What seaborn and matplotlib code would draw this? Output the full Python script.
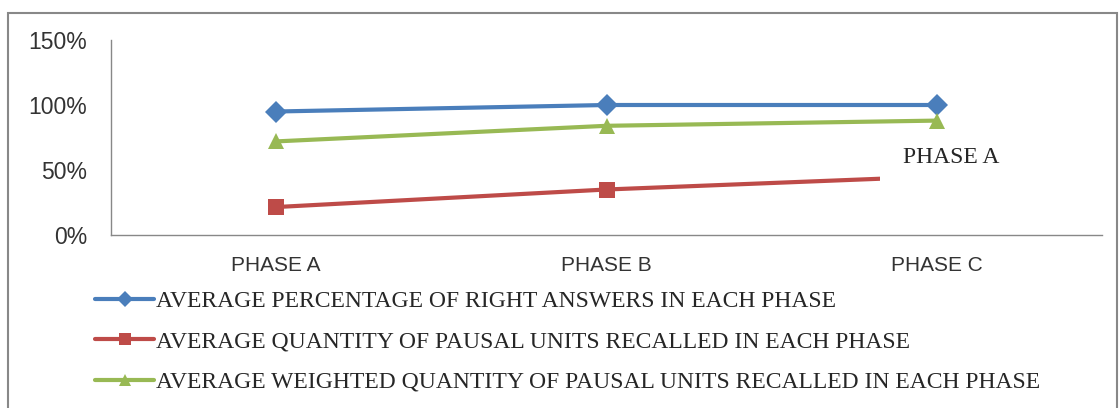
import pandas as pd
import matplotlib.pyplot as plt
import seaborn as sns
from matplotlib.patches import Rectangle

# --- data ---
phases = ["PHASE A", "PHASE B", "PHASE C"]
right_answers = [0.95, 1.00, 1.00]
pausal_units = [0.215, 0.35, 0.45]
weighted_units = [0.72, 0.84, 0.88]

series_names = [
    "AVERAGE PERCENTAGE OF RIGHT ANSWERS IN EACH PHASE",
    "AVERAGE QUANTITY OF PAUSAL UNITS RECALLED IN EACH PHASE",
    "AVERAGE WEIGHTED QUANTITY OF PAUSAL UNITS RECALLED IN EACH PHASE",
]
y_ticks = [0, 0.5, 1.0, 1.5]
y_labels = ["0%", "50%", "100%", "150%"]

colors = ["#4A7EBB", "#BE4B48", "#98B954"]
markers = ["D", "s", "^"]

rows = []
for name, vals in zip(series_names, [right_answers, pausal_units, weighted_units]):
    for ph, v in zip(phases, vals):
        rows.append({"phase": ph, "value": v, "series": name})
df = pd.DataFrame(rows)

sns.set_style("white")
fig = plt.figure(figsize=(11.19, 4.08), dpi=100)
ax = fig.add_axes([111 / 1119, 173 / 408, 991 / 1119, 195 / 408])

sns.lineplot(data=df, x="phase", y="value", hue="series", style="series",
             hue_order=series_names, style_order=series_names,
             palette=colors, markers=dict(zip(series_names, markers)),
             dashes=False, linewidth=3, markersize=11, markeredgewidth=0,
             ax=ax)

ax.set_xlim(-0.5, 2.5)
ax.set_ylim(0, 1.5)
ax.set_yticks(y_ticks)
ax.set_yticklabels(y_labels)
ax.set_xlabel("")
ax.set_ylabel("")
for s in ["top", "right"]:
    ax.spines[s].set_visible(False)
for s in ["left", "bottom"]:
    ax.spines[s].set_color("#888888")
    ax.spines[s].set_linewidth(1)
ax.tick_params(axis="both", length=0, colors="#333333")
ax.tick_params(axis="y", pad=17, labelsize=16.5)
ax.tick_params(axis="x", pad=15, labelsize=15)
for lab in ax.get_xticklabels() + ax.get_yticklabels():
    lab.set_family("Liberation Sans")

handles, labels = ax.get_legend_handles_labels()
for h in handles:
    h.set_markersize(8)
ax.legend_.remove()
fig.legend(handles, labels, loc="upper left", bbox_to_anchor=(86 / 1119, 1 - 281 / 408),
           frameon=False, handlelength=2.5, handletextpad=0.05, labelspacing=0.8,
           prop={"family": "Liberation Serif", "size": 17}, borderaxespad=0)

# white text box that sits over the end of the red line
fig.add_artist(Rectangle((880 / 1119, 222 / 408), 135 / 1119, 44 / 408,
                         transform=fig.transFigure, facecolor="white",
                         edgecolor="none", zorder=5))
fig.text(951 / 1119, 1 - 158 / 408, "PHASE A", ha="center", va="center",
         family="Liberation Serif", fontsize=17, zorder=6)

# outer chart border
fig.add_artist(Rectangle((8 / 1119, -0.05), 1109 / 1119, 1.05 - 13 / 408,
                         transform=fig.transFigure, facecolor="none",
                         edgecolor="#888888", linewidth=1.5, zorder=7))

fig.savefig("out.png", dpi=100)
